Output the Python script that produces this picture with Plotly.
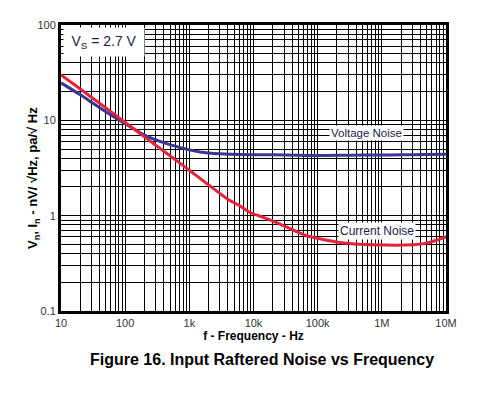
import plotly.graph_objects as go

freq_v = [10, 20, 32, 50, 100, 200, 443, 1000, 1462, 3000, 8790, 20000, 50000, 100000, 200000, 500000, 1e6, 2e6, 5e6, 1e7]
volt_noise = [24.7, 18.5, 15.0, 12.3, 9.2, 7.0, 5.7, 4.9, 4.65, 4.45, 4.36, 4.35, 4.3, 4.28, 4.3, 4.32, 4.33, 4.35, 4.38, 4.4]

freq_i = [10, 20, 50, 100, 200, 500, 1000, 2000, 4285, 6140, 8790, 15000, 25800, 67100, 222000, 733000, 3.08e6, 4.97e6, 1e7]
curr_noise = [30, 21.3, 13.5, 9.5, 6.7, 4.25, 3.0, 2.1, 1.44, 1.27, 1.08, 0.95, 0.816, 0.615, 0.524, 0.495, 0.495, 0.515, 0.6]

x_tickvals = [10, 100, 1e3, 1e4, 1e5, 1e6, 1e7]
x_ticktext = ["10", "100", "1k", "10k", "100k", "1M", "10M"]
y_tickvals = [0.1, 1, 10, 100]
y_ticktext = ["0.1", "1", "10", "100"]

font = "Liberation Sans, Arial, sans-serif"
txtcol = "#222244"

fig = go.Figure()
fig.add_trace(go.Scatter(x=freq_v, y=volt_noise, mode="lines",
                         line=dict(color="#3a3794", width=3, shape="spline", smoothing=0.6),
                         showlegend=False))
fig.add_trace(go.Scatter(x=freq_i, y=curr_noise, mode="lines",
                         line=dict(color="#e8213b", width=3, shape="spline", smoothing=0.6),
                         showlegend=False))

axis_common = dict(
    type="log", showgrid=True, gridcolor="black", gridwidth=1,
    showline=True, linecolor="black", linewidth=3, mirror=True,
    ticks="", zeroline=False, automargin=False,
    tickfont=dict(family=font, size=11, color="#333333"),
    minor=dict(dtick="D1", showgrid=True, gridcolor="black", gridwidth=1, ticks=""),
)

fig.update_xaxes(range=[1, 7], tickvals=x_tickvals, ticktext=x_ticktext,
                 title=dict(text="<b>f - Frequency - Hz</b>", font=dict(family=font, size=12, color="black"), standoff=2),
                 **axis_common)
fig.update_yaxes(range=[-1, 2], tickvals=y_tickvals, ticktext=y_ticktext, **axis_common)

fig.add_annotation(x=-0.0727, y=0.465, xref="paper", yref="paper", textangle=-90,
                   xanchor="center", yanchor="middle",
                   text="<b>V<sub>n</sub>, I<sub>n</sub> - nV/ √Hz, pa/√ Hz</b>", showarrow=False,
                   font=dict(family=font, size=13, color="black"))

fig.add_annotation(x=0.005, y=0.993, xref="paper", yref="paper", xanchor="left", yanchor="top",
                   text="V<sub>S</sub> = 2.7 V", showarrow=False, bgcolor="white",
                   font=dict(family=font, size=14, color=txtcol),
                   width=80, height=28, align="center", borderpad=0)
fig.add_annotation(x=5.761, y=0.862, xref="x", yref="y", text="Voltage Noise", showarrow=False,
                   bgcolor="white", font=dict(family=font, size=11.5, color=txtcol), borderpad=1)
fig.add_annotation(x=5.932, y=-0.161, xref="x", yref="y", text="Current Noise", showarrow=False,
                   bgcolor="white", font=dict(family=font, size=12, color=txtcol), borderpad=1)

fig.add_annotation(x=0.523, y=-0.171, xref="paper", yref="paper", yanchor="middle",
                   text="<b>Figure 16. Input Raftered Noise vs Frequency</b>", showarrow=False,
                   font=dict(family=font, size=16, color="black"))

fig.update_layout(width=480, height=389, margin=dict(l=53, r=42, t=17, b=86),
                  paper_bgcolor="white", plot_bgcolor="white")

fig.write_html("out.html")
